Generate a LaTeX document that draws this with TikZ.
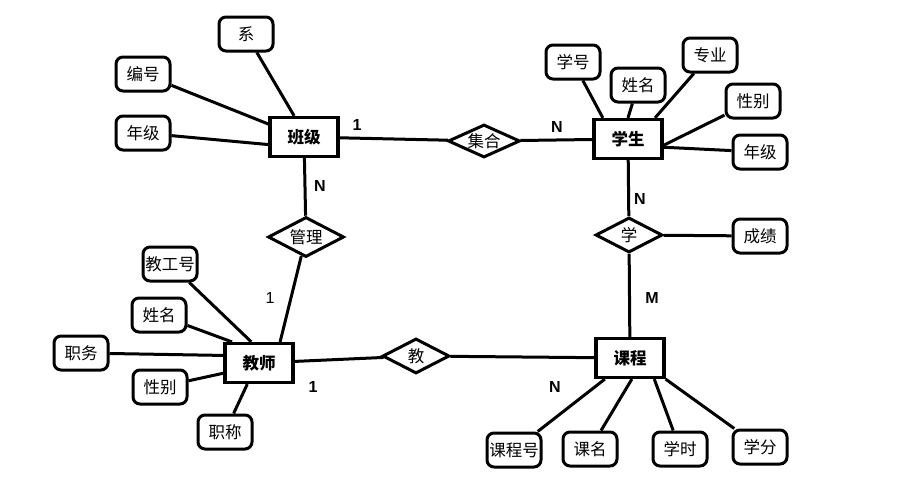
\documentclass[tikz,border=0pt]{standalone}
\usepackage{fontspec}
\setmainfont{Liberation Sans}
\newfontfamily\cjk{Noto Sans CJK SC}
\usetikzlibrary{shapes.geometric}
\begin{document}
\begin{tikzpicture}[x=1pt,y=-1pt,
  ent/.style={draw, line width=3.2pt, minimum width=68pt, minimum height=39pt, inner sep=0pt, font=\cjk\bfseries\fontsize{16.5}{18}\selectfont},
  attr/.style={draw, line width=3pt, rounded corners=7pt, minimum width=54pt, minimum height=34pt, inner sep=0pt, font=\cjk\fontsize{16.5}{18}\selectfont},
  rel/.style={draw, diamond, line width=3pt, minimum width=70pt, minimum height=35pt, inner sep=0pt, font=\cjk\fontsize{16.5}{18}\selectfont},
  ln/.style={line width=3pt},
  card/.style={font=\bfseries\fontsize{16}{18}\selectfont},
  cardr/.style={font=\fontsize{16}{18}\selectfont}]
\useasboundingbox[fill=white] (0,0) rectangle (913,491);
% entities
\node[ent] (bj) at (304,137) {班级};
\node[ent] (xs) at (628,139) {学生};
\node[ent] (js) at (259,363) {教师};
\node[ent] (kc) at (630,358) {课程};
% relationships
\node[rel, minimum width=72pt, minimum height=33pt] (jh) at (484,141) {\makebox[0pt]{集合}};
\node[rel, minimum width=76pt, minimum height=40pt] (gl) at (306,237) {\makebox[0pt]{管理}};
\node[rel, minimum width=67pt] (xue) at (629,235) {\makebox[0pt]{学}};
\node[rel, minimum width=67pt] (jiao) at (416,356) {\makebox[0pt]{教}};
% attributes of 班级
\node[attr] (xi) at (246,34) {系};
\node[attr] (bh) at (143,74) {编号};
\node[attr] (nj1) at (143,133) {年级};
% attributes of 学生
\node[attr] (xh) at (573,62) {学号};
\node[attr] (xm1) at (638,85) {姓名};
\node[attr] (zy) at (710,55) {专业};
\node[attr] (xb1) at (753,101) {性别};
\node[attr] (nj2) at (760,152) {年级};
\node[attr] (cj) at (760,236) {成绩};
% attributes of 教师
\node[attr] (jgh) at (170,264) {教工号};
\node[attr] (xm2) at (159,315) {姓名};
\node[attr] (zw) at (81,353) {职务};
\node[attr] (xb2) at (160,387) {性别};
\node[attr] (zc) at (225,432) {职称};
% attributes of 课程
\node[attr] (kch) at (514,450) {课程号};
\node[attr] (km) at (590,449) {课名};
\node[attr] (xsh) at (680,449) {学时};
\node[attr] (xf) at (760,447) {学分};
% relationship lines
\draw[ln] (bj) -- (jh);
\draw[ln] (jh) -- (xs);
\draw[ln] (bj) -- (gl);
\draw[ln] (gl) -- (js.45);
\draw[ln] (js) -- (jiao);
\draw[ln] (jiao) -- (kc);
\draw[ln] (xs) -- (xue);
\draw[ln] (xue) -- (kc);
\draw[ln] (xue) -- (cj);
% attribute lines
\draw[ln] (xi) -- (bj.115);
\draw[ln] (bh) -- (bj.160);
\draw[ln] (nj1) -- (bj.192);
\draw[ln] (xh) -- (xs.140);
\draw[ln] (xm1) -- (xs.90);
\draw[ln] (zy) -- (xs.38);
\draw[ln] (xb1) -- (xs.-10);
\draw[ln] (nj2) -- (xs.-13);
\draw[ln] (jgh) -- (js.110);
\draw[ln] (xm2) -- (js.142);
\draw[ln] (zw) -- (js.168);
\draw[ln] (xb2) -- (js.196);
\draw[ln] (zc) -- (js.241);
\draw[ln] (kch) -- (kc.220);
\draw[ln] (km) -- (kc.-85);
\draw[ln] (xsh) -- (kc.-41);
\draw[ln] (xf) -- (kc.south east);
% cardinalities
\node[card] (c1) at (357,125) {1};
\node[card] (c2) at (557,127) {N};
\node[card] (c3) at (320,186) {N};
\node[cardr] (c4) at (270,298) {1};
\node[card] (c5) at (313,387) {1};
\node[card] (c6) at (640,199) {N};
\node[card] (c7) at (652,298) {M};
\node[card] (c8) at (555,387) {N};
\end{tikzpicture}
\end{document}
